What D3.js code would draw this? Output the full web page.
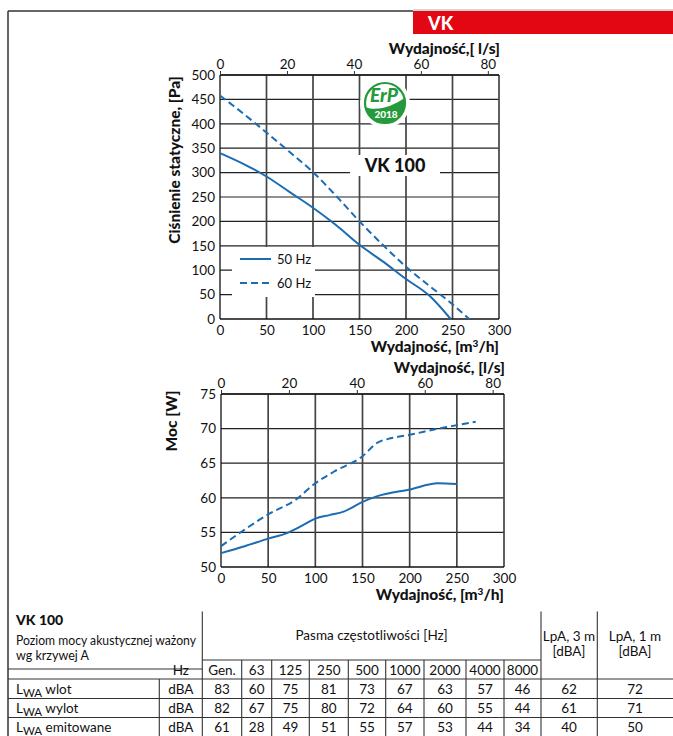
<!DOCTYPE html>
<html>
<head>
<meta charset="utf-8">
<script src="https://cdn.jsdelivr.net/npm/d3@7"></script>
<style>
  body { margin: 0; background: #fff; }
  svg { display: block; font-family: Lato, "Open Sans", sans-serif; }
</style>
</head>
<body>
<svg id="chart" width="673" height="736"></svg>
<script>
// pressure curve (m3/h -> Pa)
const pressFlow50 = [0, 25, 50, 75, 100, 125, 150, 175, 200, 225, 248];
const pressure50 = [340, 318, 292, 260, 228, 192, 152, 118, 82, 48, 0];
const pressFlow60 = [0, 25, 50, 75, 100, 125, 150, 175, 200, 225, 250, 268];
const pressure60 = [458, 421, 382, 342, 301, 252, 200, 152, 107, 68, 30, 0];

// power curve (m3/h -> W)
const powerFlow50 = [0, 25, 50, 70, 85, 100, 115, 130, 150, 165, 200, 230, 250];
const power50 = [52, 53, 54.1, 54.9, 55.9, 57, 57.5, 58, 59.4, 60.2, 61.2, 62.1, 62];
const powerFlow60 = [0, 25, 50, 80, 100, 120, 150, 165, 180, 200, 230, 250, 270];
const power60 = [53, 55.4, 57.6, 59.8, 62.1, 63.8, 66, 67.9, 68.6, 69.1, 70, 70.5, 71];

const seriesNames = ['50 Hz', '60 Hz'];

// acoustic table
const bands = ['Gen.', '63', '125', '250', '500', '1000', '2000', '4000', '8000'];
const rowNames = ['wlot', 'wylot', 'emitowane'];
const lwaInlet = [83, 60, 75, 81, 73, 67, 63, 57, 46];
const lwaOutlet = [82, 67, 75, 80, 72, 64, 60, 55, 44];
const lwaEmitted = [61, 28, 49, 51, 55, 57, 53, 44, 34];
const lpa3m = [62, 61, 40];
const lpa1m = [72, 71, 50];

const BLUE = '#1b6cb3';
const TICK_FONT = 13.5;
const svg = d3.select('#chart');

// page frame + header
svg.append('line').attr('x1', 8).attr('x2', 413).attr('y1', 11).attr('y2', 11)
    .attr('stroke', '#333').attr('stroke-width', 1.5);
svg.append('line').attr('x1', 413).attr('x2', 673).attr('y1', 10).attr('y2', 10)
    .attr('stroke', '#aaa').attr('stroke-width', 1);
svg.append('line').attr('x1', 8).attr('x2', 8).attr('y1', 11).attr('y2', 736)
    .attr('stroke', '#333').attr('stroke-width', 1.5);
svg.append('rect').attr('x', 413).attr('y', 11).attr('width', 260).attr('height', 23)
    .attr('fill', '#e30613');
svg.append('text').attr('x', 428).attr('y', 29.5).attr('fill', '#fff')
    .attr('font-weight', 900).attr('font-size', 18).text('VK');

function drawChart(opts) {
    const { left, right, top, bottom, yDomain, yStep, yTitle, topTitle, xs, ys } = opts;
    const x = d3.scaleLinear().domain([0, 300]).range([left, right]);
    const xl = d3.scaleLinear().domain([0, 300 / 3.6]).range([left, right]);
    const y = d3.scaleLinear().domain(yDomain).range([bottom, top]);
    const g = svg.append('g');

    const yTicks = d3.range(yDomain[0], yDomain[1] + 0.001, yStep);
    const xTicks = d3.range(0, 301, 50);

    // grid
    g.selectAll('.hg').data(yTicks.slice(1)).join('line')
        .attr('x1', left).attr('x2', right).attr('y1', d => y(d)).attr('y2', d => y(d))
        .attr('stroke', '#222').attr('stroke-width', 1.2);
    g.selectAll('.vg').data(xTicks.slice(1)).join('line')
        .attr('x1', d => x(d)).attr('x2', d => x(d)).attr('y1', top).attr('y2', bottom)
        .attr('stroke', '#444').attr('stroke-width', 1.7);

    // frame
    g.append('line').attr('x1', left).attr('x2', left).attr('y1', top).attr('y2', bottom)
        .attr('stroke', '#111').attr('stroke-width', 1.3);
    g.append('line').attr('x1', left).attr('x2', right).attr('y1', bottom).attr('y2', bottom)
        .attr('stroke', '#111').attr('stroke-width', 1.3);
    g.append('line').attr('x1', left).attr('x2', right).attr('y1', top).attr('y2', top)
        .attr('stroke', '#111').attr('stroke-width', 1.3);

    // axes
    const yAxis = d3.axisLeft(y).tickValues(yTicks).tickSize(0).tickPadding(5);
    g.append('g').attr('transform', `translate(${left},0)`).call(yAxis)
        .call(s => s.select('.domain').remove())
        .selectAll('text').attr('font-size', TICK_FONT).attr('fill', '#111')
        .attr('font-family', 'Lato, sans-serif');

    const xAxis = d3.axisBottom(x).tickValues(xTicks).tickSize(0).tickPadding(6);
    g.append('g').attr('transform', `translate(0,${bottom})`).call(xAxis)
        .call(s => s.select('.domain').remove())
        .selectAll('text').attr('font-size', TICK_FONT).attr('fill', '#111')
        .attr('font-family', 'Lato, sans-serif');

    const xlAxis = d3.axisTop(xl).tickValues([0, 20, 40, 60, 80]).tickSize(4).tickPadding(2);
    g.append('g').attr('transform', `translate(0,${top})`).call(xlAxis)
        .call(s => s.select('.domain').remove())
        .call(s => s.selectAll('line').attr('stroke', '#333'))
        .selectAll('text').attr('font-size', TICK_FONT).attr('fill', '#111')
        .attr('font-family', 'Lato, sans-serif');

    // titles
    g.append('text').attr('x', right + 1).attr('y', top - 21).attr('text-anchor', 'end')
        .attr('font-weight', 900).attr('font-size', 15.5).attr('fill', '#111').text(topTitle);
    const bt = g.append('text').attr('x', right).attr('y', bottom + 33).attr('text-anchor', 'end')
        .attr('font-weight', 900).attr('font-size', 15.5).attr('fill', '#111');
    bt.append('tspan').text('Wydajność, [m');
    bt.append('tspan').attr('font-size', 10).attr('dy', -5).text('3');
    bt.append('tspan').attr('dy', 5).text('/h]');
    g.append('text')
        .attr('transform', `translate(${xs},${ys}) rotate(-90)`)
        .attr('text-anchor', 'middle').attr('font-weight', 900).attr('font-size', 15.5)
        .attr('fill', '#111').text(yTitle);

    return { g, x, y };
}

function drawCurve(c, xs, ys, dashed) {
    const line = d3.line().x(d => c.x(d[0])).y(d => c.y(d[1])).curve(d3.curveMonotoneX);
    c.g.append('path').datum(d3.zip(xs, ys)).attr('d', line)
        .attr('fill', 'none').attr('stroke', BLUE).attr('stroke-width', 2)
        .attr('stroke-dasharray', dashed ? '7,4' : null);
}

// top chart: static pressure
const c1 = drawChart({
    left: 220, right: 499, top: 75, bottom: 319, yDomain: [0, 500], yStep: 50,
    yTitle: 'Ciśnienie statyczne, [Pa]', topTitle: 'Wydajność,[ l/s]', xs: 180, ys: 160
});

// white patches: ErP logo, model label, legend
c1.g.append('circle').attr('cx', 385).attr('cy', 103).attr('r', 25).attr('fill', '#fff');
c1.g.append('rect').attr('x', 350).attr('y', 155).attr('width', 90).attr('height', 21).attr('fill', '#fff');
c1.g.append('text').attr('x', 395).attr('y', 172).attr('text-anchor', 'middle')
    .attr('font-weight', 900).attr('font-size', 18).attr('fill', '#111').text('VK 100');

drawCurve(c1, pressFlow50, pressure50, false);
drawCurve(c1, pressFlow60, pressure60, true);

const leg = c1.g.append('g');
leg.append('rect').attr('x', 232).attr('y', 247).attr('width', 83).attr('height', 50).attr('fill', '#fff');
seriesNames.forEach((name, i) => {
    const ly = 259 + i * 24;
    leg.append('line').attr('x1', 240).attr('x2', 271).attr('y1', ly).attr('y2', ly)
        .attr('stroke', BLUE).attr('stroke-width', 2)
        .attr('stroke-dasharray', i ? '7,4' : null);
    leg.append('text').attr('x', 277).attr('y', ly + 4.5).attr('font-size', 13)
        .attr('fill', '#111').text(name);
});

// ErP 2018 badge
const GREEN = '#249a3b';
const erp = c1.g.append('g').attr('transform', 'translate(385,103)');
erp.append('circle').attr('r', 20).attr('fill', '#fff').attr('stroke', GREEN).attr('stroke-width', 2.2);
erp.append('path')
    .attr('d', 'M-19.6,4 C-8,9 8,3 19.4,-5 A20,20 0 1 1 -19.6,4 Z')
    .attr('fill', GREEN);
erp.append('text').attr('x', -1).attr('y', -1).attr('text-anchor', 'middle')
    .attr('font-weight', 900).attr('font-style', 'italic').attr('font-size', 19)
    .attr('fill', GREEN).text('ErP');
erp.append('text').attr('x', 1).attr('y', 15).attr('text-anchor', 'middle')
    .attr('font-weight', 900).attr('font-size', 10).attr('fill', '#fff').text('2018');

// bottom chart: power
const c2 = drawChart({
    left: 221, right: 504, top: 394, bottom: 567, yDomain: [50, 75], yStep: 5,
    yTitle: 'Moc [W]', topTitle: 'Wydajność, [l/s]', xs: 177, ys: 421
});
drawCurve(c2, powerFlow50, power50, false);
drawCurve(c2, powerFlow60, power60, true);

// acoustic table
const colEdges = [8, 159.3, 202.3, 241.7, 271.7, 309.3, 348.3, 385.7, 424, 466, 504, 541, 597.3, 673];
const rowEdges = [679, 698.5, 717.5, 736.5];
const tb = svg.append('g').attr('font-size', 13.5).attr('fill', '#111');
const stroke = '#333';
function hl(x1, x2, yy) {
    tb.append('line').attr('x1', x1).attr('x2', x2).attr('y1', yy).attr('y2', yy)
        .attr('stroke', stroke).attr('stroke-width', 1.1);
}
function vl(xx, y1, y2) {
    tb.append('line').attr('x1', xx).attr('x2', xx).attr('y1', y1).attr('y2', y2)
        .attr('stroke', stroke).attr('stroke-width', 1.1);
}
hl(202.3, 541, 660);
hl(8, 202.3, 669);
rowEdges.forEach(r => hl(8, 673, r));
vl(202.3, 611.5, 736);
vl(541, 611.5, 736);
vl(597.3, 611.5, 736);
vl(159.3, 679, 736);
colEdges.slice(3, 11).forEach(e => vl(e, 660, 736));

tb.append('text').attr('x', 16).attr('y', 625).attr('font-weight', 900).attr('font-size', 14).text('VK 100');
tb.append('text').attr('x', 16).attr('y', 645)
    .attr('textLength', 180).attr('lengthAdjust', 'spacingAndGlyphs')
    .text('Poziom mocy akustycznej ważony');
tb.append('text').attr('x', 16).attr('y', 660)
    .attr('textLength', 73).attr('lengthAdjust', 'spacingAndGlyphs').text('wg krzywej A');
tb.append('text').attr('x', 371.5).attr('y', 640).attr('text-anchor', 'middle').text('Pasma częstotliwości [Hz]');
tb.append('text').attr('x', 569).attr('y', 641).attr('text-anchor', 'middle').text('LpA, 3 m');
tb.append('text').attr('x', 569).attr('y', 656).attr('text-anchor', 'middle').text('[dBA]');
tb.append('text').attr('x', 635).attr('y', 641).attr('text-anchor', 'middle').text('LpA, 1 m');
tb.append('text').attr('x', 635).attr('y', 656).attr('text-anchor', 'middle').text('[dBA]');
tb.append('text').attr('x', 180.8).attr('y', 674.5).attr('text-anchor', 'middle').text('Hz');

bands.forEach((b, i) => {
    tb.append('text').attr('x', (colEdges[i + 2] + colEdges[i + 3]) / 2).attr('y', 674.5)
        .attr('text-anchor', 'middle').text(b);
});

const rows = [lwaInlet, lwaOutlet, lwaEmitted];
rows.forEach((vals, r) => {
    const cy = (rowEdges[r] + rowEdges[r + 1]) / 2 + 5;
    const t = tb.append('text').attr('x', 16).attr('y', cy);
    t.append('tspan').text('L');
    t.append('tspan').attr('font-size', 11.5).attr('dy', 3).text('WA');
    t.append('tspan').attr('dy', -3).text(' ' + rowNames[r]);
    tb.append('text').attr('x', 180.8).attr('y', cy).attr('text-anchor', 'middle').text('dBA');
    vals.forEach((v, i) => {
        tb.append('text').attr('x', (colEdges[i + 2] + colEdges[i + 3]) / 2).attr('y', cy)
            .attr('text-anchor', 'middle').text(v);
    });
    tb.append('text').attr('x', 569).attr('y', cy).attr('text-anchor', 'middle').text(lpa3m[r]);
    tb.append('text').attr('x', 635).attr('y', cy).attr('text-anchor', 'middle').text(lpa1m[r]);
});
</script>
</body>
</html>
